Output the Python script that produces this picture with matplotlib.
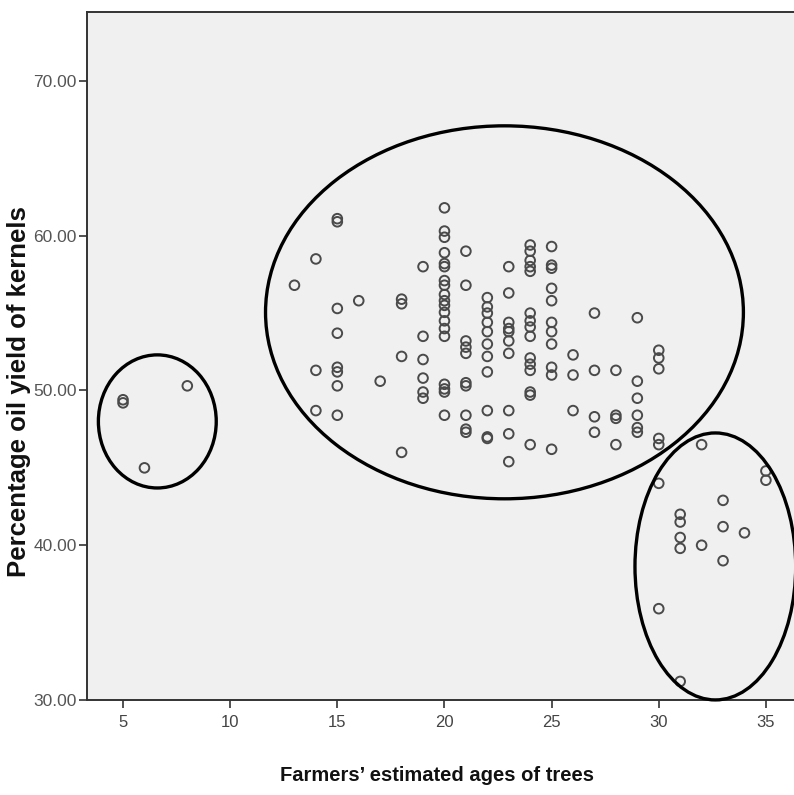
import matplotlib
matplotlib.use("Agg")
import matplotlib.pyplot as plt
from matplotlib.patches import Ellipse

# ages of trees (years) and oil yield (%)
ages = ([5, 5, 6, 8, 13]
        + [14] * 3
        + [15] * 8
        + [16, 17]
        + [18] * 4
        + [19] * 6
        + [20] * 19
        + [21] * 10
        + [22] * 11
        + [23] * 10
        + [24] * 15
        + [25] * 11
        + [26] * 3
        + [27] * 4
        + [28] * 4
        + [29] * 6
        + [30] * 7
        + [31] * 5
        + [32] * 2
        + [33] * 3
        + [34]
        + [35] * 2)

oil_yield = ([49.4, 49.2, 45.0, 50.3, 56.8]
             + [58.5, 51.3, 48.7]
             + [61.1, 60.9, 55.3, 53.7, 51.5, 51.2, 50.3, 48.4]
             + [55.8, 50.6]
             + [55.9, 55.6, 52.2, 46.0]
             + [58.0, 53.5, 52.0, 50.8, 49.9, 49.5]
             + [61.8, 60.3, 59.9, 58.9, 58.2, 58.0, 57.1, 56.8, 56.2, 55.8,
                55.5, 55.05, 54.5, 54.0, 53.5, 50.4, 50.1, 49.9, 48.4]
             + [59.0, 56.8, 53.2, 52.8, 52.4, 50.5, 50.3, 48.4, 47.5, 47.3]
             + [56.0, 55.4, 55.0, 54.4, 53.8, 53.0, 52.2, 51.2, 48.7, 47.0, 46.9]
             + [58.0, 56.3, 54.4, 54.0, 53.8, 53.2, 52.4, 48.7, 47.2, 45.4]
             + [59.4, 59.0, 58.4, 58.0, 57.7, 55.0, 54.5, 54.1, 53.5, 52.1,
                51.7, 51.3, 49.9, 49.7, 46.5]
             + [59.3, 58.1, 57.9, 56.6, 55.8, 54.4, 53.8, 53.0, 51.5, 51.0, 46.2]
             + [52.3, 51.0, 48.7]
             + [55.0, 51.3, 48.3, 47.3]
             + [51.3, 48.4, 48.2, 46.5]
             + [54.7, 50.6, 49.5, 48.4, 47.6, 47.3]
             + [52.6, 52.1, 51.4, 46.9, 46.5, 44.0, 35.9]
             + [42.0, 41.5, 40.5, 39.8, 31.2]
             + [46.5, 40.0]
             + [42.9, 41.2, 39.0]
             + [40.8]
             + [44.8, 44.2])

x_ticks = [5, 10, 15, 20, 25, 30, 35]
y_ticks = [30, 40, 50, 60, 70]
y_tick_labels = ["30.00", "40.00", "50.00", "60.00", "70.00"]

narrow = ["Liberation Sans Narrow", "Liberation Sans", "DejaVu Sans"]
regular = ["Liberation Sans", "DejaVu Sans"]

fig = plt.figure(figsize=(7.94, 7.95), dpi=100)
# axes run past the right edge, the original picture is cropped there
ax = fig.add_axes([0.1096, 0.1195, 0.8955, 0.8655])
ax.set_facecolor("#f0f0f0")

ax.scatter(ages, oil_yield, s=48, facecolors="none", edgecolors="#4a4a4a",
           linewidths=1.4, zorder=3)

# hand-drawn groupings
groups = [((6.6, 48.0), 5.5, 8.6),
          ((22.8, 55.05), 22.3, 24.1),
          ((32.64, 38.63), 7.5, 17.25)]
for centre, w, h in groups:
    ax.add_patch(Ellipse(centre, w, h, fill=False, edgecolor="black",
                         linewidth=2.4, zorder=4, clip_on=False))

ax.set_xlim(3.32, 36.5)
ax.set_ylim(30, 74.46)
ax.set_xticks(x_ticks)
ax.set_yticks(y_ticks)
ax.set_yticklabels(y_tick_labels)

for lab in ax.get_xticklabels():
    lab.set_family(narrow)
    lab.set_fontsize(12)
    lab.set_color("#444444")
for lab in ax.get_yticklabels():
    lab.set_family(regular)
    lab.set_fontsize(12.5)
    lab.set_color("#555555")

ax.tick_params(axis="both", direction="out", length=6, width=1.2,
               color="#333333")
ax.tick_params(axis="y", pad=1.5)
ax.tick_params(axis="x", pad=5)
for side in ["left", "bottom", "top"]:
    ax.spines[side].set_color("#333333")
    ax.spines[side].set_linewidth(1.4)
ax.spines["right"].set_visible(False)

fig.text(0.024, 0.507, "Percentage oil yield of kernels", rotation=90,
         ha="center", va="center", fontsize=18.5, fontweight="bold",
         family=regular, color="#111111")
fig.text(0.55, 0.025, "Farmers\u2019 estimated ages of trees",
         ha="center", va="center", fontsize=14.5, fontweight="bold",
         family=narrow, color="#111111")

fig.savefig("out.png", dpi=100, facecolor="white")
